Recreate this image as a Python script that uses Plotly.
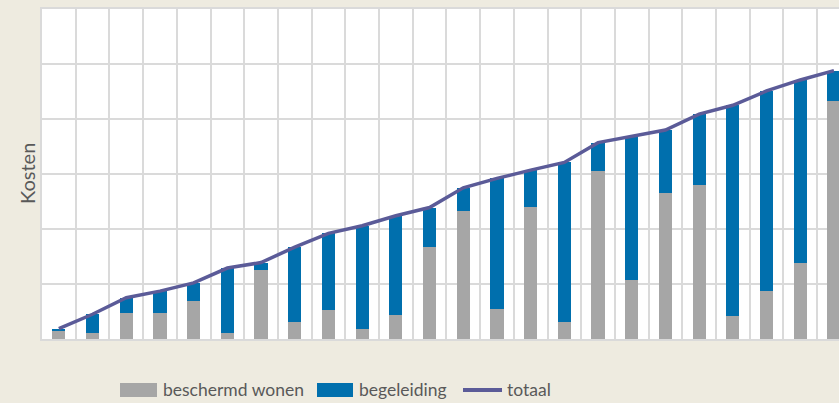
"""Kosten per cliënt: beschermd wonen + begeleiding, gestapeld, met totaallijn."""
import plotly.graph_objects as go

COLORS = {
    "wonen": "#A6A6A6",
    "begeleiding": "#006FAD",
    "totaal": "#5B5B98",
    "grid": "#DADADA",
    "bg": "#EEEBE0",
    "text": "#595959",
}
FONT = "Lato"

# 24 groepen, waarden in rasterstappen (geen as-labels in het origineel)
groepen = list(range(24))
beschermd_wonen = [0.16, 0.11, 0.47, 0.47, 0.70, 0.11, 1.25, 0.31, 0.53, 0.19, 0.44, 1.68,
                   2.33, 0.55, 2.40, 0.31, 3.06, 1.07, 2.66, 2.80, 0.41, 0.87, 1.38, 4.32]
begeleiding = [0.03, 0.34, 0.28, 0.40, 0.32, 1.18, 0.14, 1.36, 1.39, 1.87, 1.80, 0.71,
               0.42, 2.37, 0.67, 2.90, 0.51, 2.62, 1.14, 1.29, 3.84, 3.64, 3.33, 0.56]
totaal = [0.19, 0.45, 0.75, 0.87, 1.02, 1.29, 1.39, 1.67, 1.92, 2.06, 2.24, 2.39,
          2.75, 2.92, 3.07, 3.21, 3.57, 3.69, 3.80, 4.09, 4.25, 4.51, 4.71, 4.88]

# plot area in pixels, used for the hand-drawn legend
L, T, B, R = 42, 9, 339, 839


def px(x):
    return (x - L) / (R - L)


def py(y):
    return (B - y) / (B - T)


fig = go.Figure()
fig.add_trace(go.Bar(x=groepen, y=beschermd_wonen, name="beschermd wonen",
                     marker=dict(color=COLORS["wonen"], line_width=0)))
fig.add_trace(go.Bar(x=groepen, y=begeleiding, name="begeleiding",
                     marker=dict(color=COLORS["begeleiding"], line_width=0)))
fig.add_trace(go.Scatter(x=groepen, y=totaal, name="totaal", mode="lines",
                         line=dict(color=COLORS["totaal"], width=3.5)))

# legend: wide swatches like the original
legend = [
    ("rect", 120, 157, COLORS["wonen"], "beschermd wonen", 161),
    ("rect", 317, 353, COLORS["begeleiding"], "begeleiding", 357),
    ("line", 463, 502, COLORS["totaal"], "totaal", 505),
]
for kind, x0, x1, col, label, tx in legend:
    if kind == "rect":
        fig.add_shape(type="rect", xref="paper", yref="paper",
                      x0=px(x0), x1=px(x1), y0=py(383), y1=py(397),
                      fillcolor=col, line_width=0)
    else:
        fig.add_shape(type="line", xref="paper", yref="paper",
                      x0=px(x0), x1=px(x1), y0=py(390), y1=py(390),
                      line=dict(color=col, width=4))
    fig.add_annotation(text=label, xref="paper", yref="paper", x=px(tx), y=py(389),
                       xanchor="left", yanchor="middle", showarrow=False,
                       font=dict(size=17.5, color=COLORS["text"], family=FONT))

fig.add_annotation(text="Kosten", xref="paper", yref="paper", x=px(27), y=0.5,
                   textangle=-90, xanchor="center", yanchor="middle", showarrow=False,
                   font=dict(size=20, color=COLORS["text"], family=FONT))

fig.update_layout(
    width=839, height=403,
    barmode="stack", bargap=0.61,
    paper_bgcolor=COLORS["bg"], plot_bgcolor="white",
    margin=dict(l=L, r=0, t=T, b=403 - B),
    showlegend=False,
    font=dict(family=FONT, color=COLORS["text"]),
)
fig.update_xaxes(range=[-0.5, 23.15], tick0=-0.5, dtick=1, showticklabels=False,
                 showgrid=True, gridcolor=COLORS["grid"], gridwidth=2, zeroline=False,
                 showline=True, linecolor=COLORS["grid"], linewidth=2, mirror=True)
fig.update_yaxes(range=[0, 6], dtick=1, showticklabels=False,
                 showgrid=True, gridcolor=COLORS["grid"], gridwidth=2, zeroline=False,
                 showline=True, linecolor=COLORS["grid"], linewidth=2)

# drop the browser's default 8px body margin so the figure fills the window
fig.write_html("out.html", config={"displayModeBar": False},
               post_script="document.body.style.margin='0';")
